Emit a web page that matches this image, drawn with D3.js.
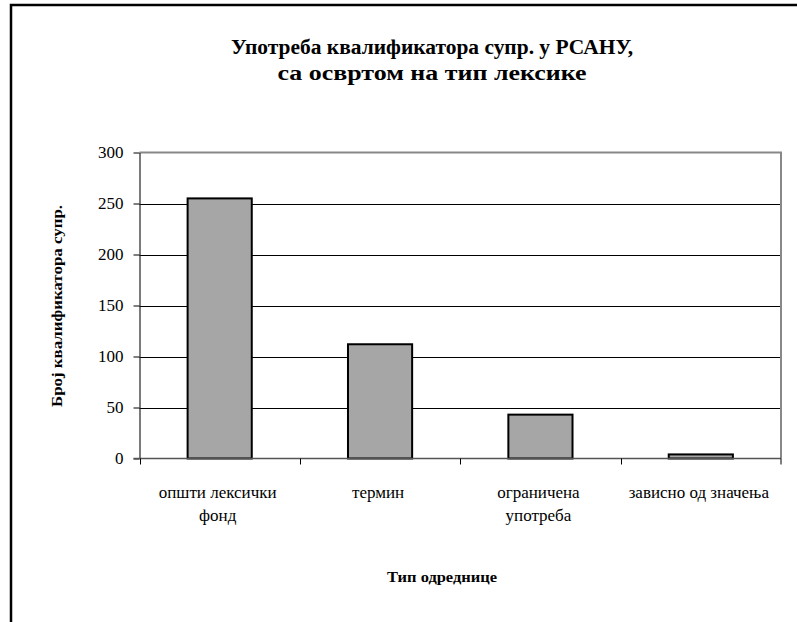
<!DOCTYPE html>
<html><head><meta charset="utf-8">
<script src="https://cdn.jsdelivr.net/npm/d3@7"></script>
<style>body{margin:0;background:#fff}
#chart text{font-family:"Liberation Serif","Times New Roman",serif;}</style>
</head><body>
<div id="chart"></div>
<script>
const categories = [["општи лексички","фонд"],["термин"],["ограничена","употреба"],["зависно од значења"]];
const values = [255, 112, 43, 4];
const yTicks = [0, 50, 100, 150, 200, 250, 300];
const titleLines = ["Употреба квалификатора супр. у РСАНУ,", "са освртом на тип лексике"];
const yTitle = "Број квалификатора супр.";
const xTitle = "Тип одреднице";

const FONT = "Liberation Serif";
const W = 797, H = 622;
const m = {left:139.5, right:781, top:152.5, bottom:458.5};
const svg = d3.select("#chart").append("svg").attr("width", W).attr("height", H)
  .attr("font-family", FONT).style("display","block");
svg.append("style").text('text{font-family:"Liberation Serif","Times New Roman",serif;}');

function ff(sel){ return sel.attr("font-family", FONT).style("font-family", '"Liberation Serif", serif'); }

// outer frame
svg.append("path").attr("d", `M11,${H} L11,5 L${W},5`).attr("fill","none").attr("stroke","#000").attr("stroke-width",2.5);

const x = d3.scaleBand().domain(d3.range(categories.length)).range([m.left, m.right]).paddingInner(0.6).paddingOuter(0.3);
const xb = d3.scaleBand().domain(d3.range(categories.length)).range([m.left, m.right]);
const y = d3.scaleLinear().domain([0, 300]).range([m.bottom, m.top]);

// gridlines
svg.append("g").selectAll("line").data(yTicks.filter(t => t>0 && t<300)).join("line")
  .attr("x1", m.left).attr("x2", m.right).attr("y1", d=>Math.round(y(d))+0.5).attr("y2", d=>Math.round(y(d))+0.5)
  .attr("stroke","#000").attr("stroke-width",1);
// plot border top/right gray
svg.append("path").attr("d", `M${m.left},${m.top} L${m.right},${m.top} L${m.right},${m.bottom}`)
  .attr("fill","none").attr("stroke","#888").attr("stroke-width",2);

// bars
svg.append("g").selectAll("rect").data(values).join("rect")
  .attr("x", (d,i)=>x(i)).attr("width", x.bandwidth())
  .attr("y", d=>y(d)).attr("height", d=>y(0)-y(d))
  .attr("fill","#a6a6a6").attr("stroke","#000").attr("stroke-width",2);

// y axis
const ya = svg.append("g").attr("transform",`translate(${m.left},0)`)
  .call(d3.axisLeft(y).tickValues(yTicks).tickSize(6).tickPadding(10).tickSizeOuter(0));
ya.attr("font-family", FONT).attr("font-size", 17);
ya.select(".domain").attr("stroke","#222").attr("stroke-width",1.2);
ya.selectAll(".tick line").attr("stroke","#000");
ff(ya.selectAll("text")).attr("font-size",17).attr("fill","#000");

// x axis
svg.append("line").attr("x1", m.left-6).attr("x2", m.right).attr("y1", m.bottom).attr("y2", m.bottom)
  .attr("stroke","#555").attr("stroke-width",1.5);
const bounds = d3.range(categories.length+1).map(i => i<categories.length ? Math.round(xb(i))+0.5 : m.right);
svg.append("g").selectAll("line").data(bounds).join("line")
  .attr("x1", d=>d).attr("x2", d=>d).attr("y1", m.bottom).attr("y2", m.bottom+6)
  .attr("stroke","#000").attr("stroke-width",1);

const cl = ff(svg.append("g").selectAll("text").data(categories).join("text")
  .attr("x", (d,i)=>xb(i)+xb.bandwidth()/2 - 2).attr("y", 498)
  .attr("text-anchor","middle").attr("font-size",17).attr("fill","#000"));
cl.each(function(d){
  const t = d3.select(this);
  d.forEach((s,j)=>t.append("tspan").attr("x", t.attr("x")).attr("dy", j?23:0).text(s));
});

// titles
const titleW = [402, 309];
titleLines.forEach((s,j)=>ff(svg.append("text").attr("x",432).attr("y",54+j*26)
  .attr("text-anchor","middle").attr("font-weight","bold").attr("font-size",20)
  .attr("textLength", titleW[j]).attr("lengthAdjust","spacingAndGlyphs").attr("fill","#000")).text(s));

ff(svg.append("text").attr("transform","translate(62,306) rotate(-90)").attr("text-anchor","middle")
  .attr("font-weight","bold").attr("font-size",15)
  .attr("textLength",202).attr("lengthAdjust","spacingAndGlyphs")).text(yTitle);
ff(svg.append("text").attr("x",442).attr("y",582).attr("text-anchor","middle")
  .attr("font-weight","bold").attr("font-size",15)
  .attr("textLength",110).attr("lengthAdjust","spacingAndGlyphs")).text(xTitle);
</script>
</body></html>
